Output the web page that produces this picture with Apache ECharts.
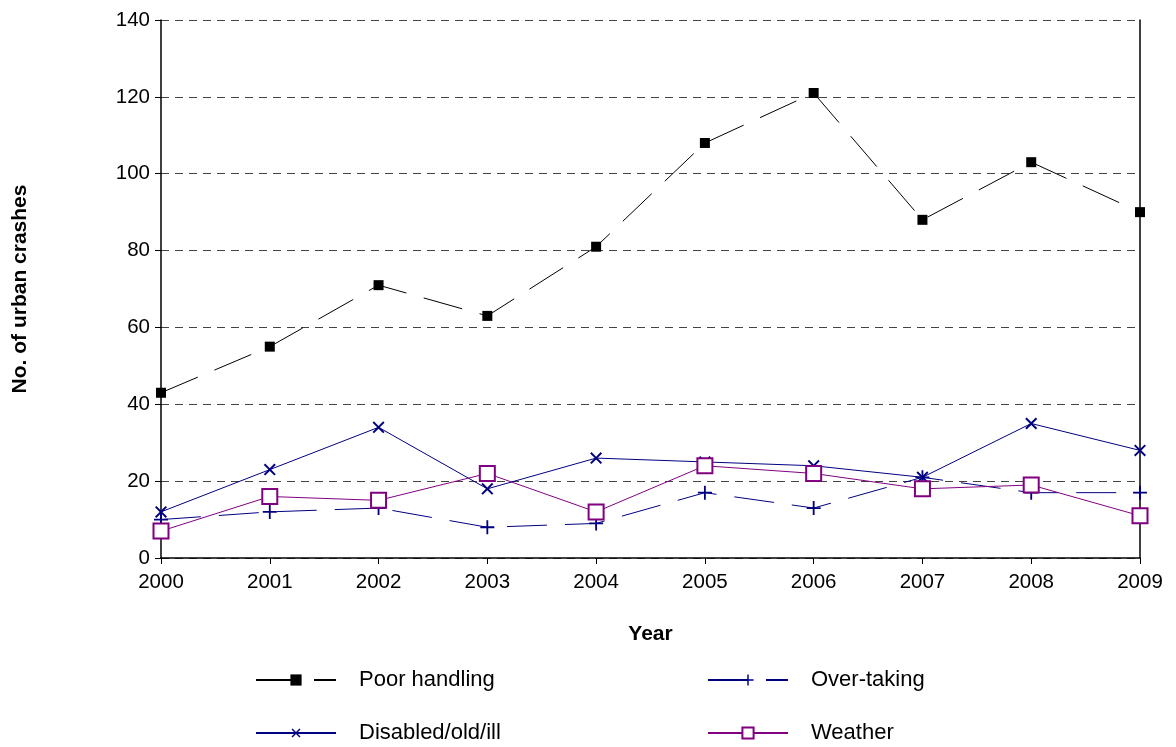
<!DOCTYPE html>
<html lang="en">
  <head>
    <meta charset="UTF-8" />
    <title>Urban crashes</title>
    <script src="https://cdn.jsdelivr.net/npm/echarts@6.0.0/dist/echarts.min.js"></script>
  </head>
  <body style="margin: 0">
    <div id="main" style="width: 1176px; height: 747px"></div>
    <script type="text/javascript">
      // data
      let years = ["2000", "2001", "2002", "2003", "2004", "2005", "2006", "2007", "2008", "2009"]
      let poorHandling = [43, 55, 71, 63, 81, 108, 121, 88, 103, 90]
      let overTaking = [10, 12, 13, 8, 9, 17, 13, 21, 17, 17]
      let disabled = [12, 23, 34, 18, 26, 25, 24, 21, 35, 28]
      let weather = [7, 16, 15, 22, 12, 24, 22, 18, 19, 11]

      let font = "Liberation Sans, Arial, sans-serif"
      let plus = "path://M-1,-0.13 L-0.13,-0.13 L-0.13,-1 L0.13,-1 L0.13,-0.13 L1,-0.13 L1,0.13 L0.13,0.13 L0.13,1 L-0.13,1 L-0.13,0.13 L-1,0.13 Z"

      function legendAt(name, left, top) {
        return {
          data: [name],
          left: left,
          top: top,
          itemWidth: 80,
          itemHeight: 14,
          textStyle: { fontFamily: font, fontSize: 22, color: "#000", padding: [0, 0, 0, 18] },
        }
      }

      let options = {
        animation: false,
        grid: { left: 161, right: 36, top: 20, bottom: 189 },
        legend: [
          legendAt("Poor handling", 250, 664),
          legendAt("Over-taking", 702, 664),
          legendAt("Disabled/old/ill", 250, 717),
          legendAt("Weather", 702, 717),
        ],
        xAxis: {
          type: "category",
          data: years,
          boundaryGap: false,
          name: "Year",
          nameLocation: "middle",
          nameGap: 66,
          nameTextStyle: { fontFamily: font, fontSize: 21, fontWeight: "bold", color: "#000" },
          axisLine: { lineStyle: { color: "#000", width: 1.5 } },
          axisTick: { length: 6, lineStyle: { color: "#000" } },
          axisLabel: { fontFamily: font, fontSize: 20.5, color: "#000", margin: 14 },
        },
        yAxis: [
          {
            type: "value",
            min: 0,
            max: 140,
            interval: 20,
            name: "No. of urban crashes",
            nameLocation: "middle",
            nameGap: 130,
            nameTextStyle: { fontFamily: font, fontSize: 21, fontWeight: "bold", color: "#000" },
            axisLine: { show: true, lineStyle: { color: "#000", width: 1.5 } },
            axisTick: { show: true, length: 6, lineStyle: { color: "#000" } },
            axisLabel: { fontFamily: font, fontSize: 20.5, color: "#000", margin: 11 },
            splitLine: { lineStyle: { color: "#444", type: [8, 6] } },
          },
          {
            type: "value",
            min: 0,
            max: 140,
            interval: 20,
            position: "right",
            axisLine: { show: true, lineStyle: { color: "#000", width: 1.5 } },
            axisTick: { show: false },
            axisLabel: { show: false },
            splitLine: { show: false },
          },
        ],
        series: [
          {
            name: "Poor handling",
            type: "line",
            data: poorHandling,
            symbol: "rect",
            symbolSize: 10,
            itemStyle: { color: "#000" },
            lineStyle: { color: "#000", width: 1, type: [40, 18] },
          },
          {
            name: "Over-taking",
            type: "line",
            data: overTaking,
            symbol: plus,
            symbolSize: 14,
            itemStyle: { color: "#000080" },
            lineStyle: { color: "#000080", width: 1, type: [40, 18] },
          },
          {
            name: "Disabled/old/ill",
            type: "line",
            data: disabled,
            symbol: plus,
            symbolRotate: 45,
            symbolSize: 15,
            itemStyle: { color: "#000080" },
            lineStyle: { color: "#000080", width: 1 },
          },
          {
            name: "Weather",
            type: "line",
            data: weather,
            symbol: "emptyRect",
            symbolSize: 15,
            itemStyle: { color: "#800080", borderWidth: 2.5 },
            lineStyle: { color: "#800080", width: 1 },
          },
        ],
      }

      let myChart = echarts.init(document.getElementById("main"))
      myChart.setOption(options)
    </script>
  </body>
</html>
